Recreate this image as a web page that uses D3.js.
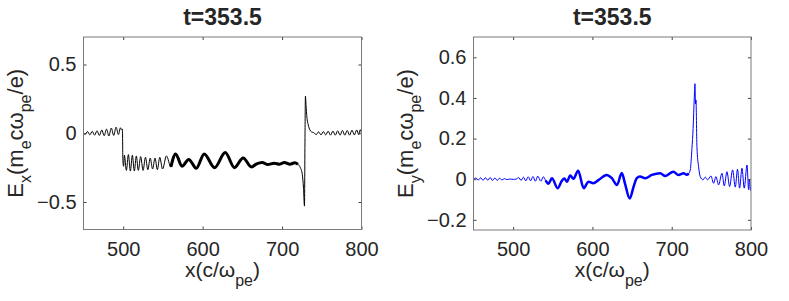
<!DOCTYPE html>
<html>
<head>
<meta charset="utf-8">
<script src="https://cdn.jsdelivr.net/npm/d3@7/dist/d3.min.js"></script>
<style>
  body { margin: 0; background: #fff; }
  text { font-family: "Liberation Sans", Arial, Helvetica, sans-serif; fill: #262626; }
</style>
</head>
<body>
<script>
// ---- data ----
var titleText = "t=353.5";
var xTicks = [500, 600, 700, 800];
var exTicks = [-0.5, 0, 0.5];
var eyTicks = [-0.2, 0, 0.2, 0.4, 0.6];

// E_x (black)
var exX = [450,452,455,458,461,464,467,470,473,476,479,482,485,488,491,494,496.5,498,499,
  499.6,500.5,501.5,504,506.5,509,511.5,514,516.5,519,522,525,528,531,534,537,540,543,546,549.5,
  554.5,560,566,574,582.5,592,602,615,628.5,640,651,661.5,
  668,675,682,690,697,703,710,716,720,723,725.5,727,728.2,728.9,729.4,730.2,731.2,733,735,737,740,
  743,746,749,752,755,758,761,764,767,770,773,776,779,782,785,788,791,794,796.5,798.5,800];
var exY = [0,-0.008,0.012,-0.012,0.014,-0.014,0.018,-0.016,0.024,-0.018,0.03,-0.02,0.038,-0.016,0.044,-0.01,0.04,0.025,0.03,
  -0.2,-0.24,-0.16,-0.27,-0.155,-0.275,-0.16,-0.275,-0.165,-0.27,-0.17,-0.27,-0.175,-0.265,-0.18,-0.26,-0.18,-0.265,-0.175,-0.26,
  -0.165,-0.245,-0.15,-0.24,-0.19,-0.255,-0.15,-0.25,-0.14,-0.25,-0.18,-0.245,
  -0.222,-0.212,-0.228,-0.218,-0.225,-0.212,-0.225,-0.215,-0.225,-0.25,-0.3,-0.4,-0.53,0,0.27,0.2,0.12,0.06,0.025,0.01,0.004,
  -0.01,0.01,-0.012,0.012,-0.012,0.015,-0.014,0.016,-0.014,0.018,-0.014,0.02,-0.014,0.02,-0.014,0.022,-0.012,0.024,-0.01,0.026,0];

// E_y (blue)
var eyX = [450,453,456,459,462,465,468,471,474,477,480,483,486,489,492,496,500,504,507,510,513,516,519,522,525,528,531,535,538,541,
  544.5,549,556,561.5,564.5,567.8,572,576,582,589,595,601,608,618,624.5,631,637,641,647,652,656,660,666.5,675,685.5,692,702,708.5,715,719,721.5,
  723.4,725.5,727,728.5,729.3,730,730.6,731.8,733.9,736,739.4,742.3,745.2,749.5,752.8,755.8,759.1,763.4,766.3,769.7,773,776.8,780.2,783,785.6,788.6,791.5,795,797,798,799.5,800];
var eyY = [0,0.006,-0.004,0.007,-0.005,0.007,-0.005,0.008,-0.006,0.006,-0.006,0.005,-0.004,0.003,-0.002,0.001,-0.001,0.001,0.008,-0.006,0.01,-0.008,0.012,-0.008,0.013,-0.01,0.015,-0.01,0.012,-0.006,
  -0.022,0.005,-0.044,-0.008,0.004,-0.012,0.018,0.002,0.042,-0.044,-0.012,-0.02,-0.003,0.021,0.005,-0.028,0.03,-0.02,-0.095,-0.036,0.005,0.013,0.005,0.021,0.029,0.016,0.037,0.021,0.029,0.022,0.028,
  0.046,0.15,0.25,0.405,0.47,0.37,0.39,0.16,0.062,0.013,-0.003,0.01,-0.003,0.016,-0.02,0.013,-0.028,0.029,-0.033,0.037,-0.036,0.046,-0.039,0.049,-0.044,0.054,-0.044,0.07,-0.052,0,-0.055,-0.04];

// ---- drawing ----
var W = 789, H = 301;
var svg = d3.select("body").append("svg").attr("width", W).attr("height", H);

function drawPanel(o) {
  var x = d3.scaleLinear().domain([450, 800]).range([o.left, o.right]);
  var y = d3.scaleLinear().domain(o.yDomain).range([o.bottom, o.top]);
  var g = svg.append("g");

  var clipId = "clip" + o.id;
  svg.append("clipPath").attr("id", clipId).append("rect")
    .attr("x", o.left).attr("y", o.top)
    .attr("width", o.right - o.left).attr("height", o.bottom - o.top);

  var pts = o.xs.map(function (d, i) { return [d, o.ys[i]]; });
  var line = d3.line().x(function (d) { return x(d[0]); }).y(function (d) { return y(d[1]); })
    .curve(d3.curveMonotoneX);

  var lg = g.append("g").attr("clip-path", "url(#" + clipId + ")");
  lg.append("path").datum(pts).attr("d", line)
    .attr("fill", "none").attr("stroke", o.color).attr("stroke-width", 1);
  // noisy stretch drawn as a thicker band
  lg.append("path")
    .datum(pts.filter(function (d) { return d[0] >= o.noisy[0] && d[0] <= o.noisy[1]; }))
    .attr("d", line)
    .attr("fill", "none").attr("stroke", o.color).attr("stroke-width", o.noisyWidth)
    .attr("stroke-linejoin", "round");

  // axes (ticks inward, box on)
  var ax = g.append("g").attr("transform", "translate(0," + o.bottom + ")")
    .call(d3.axisBottom(x).tickValues(xTicks).tickSizeInner(-3).tickSizeOuter(0).tickPadding(12));
  var axT = g.append("g").attr("transform", "translate(0," + o.top + ")")
    .call(d3.axisTop(x).tickValues(xTicks).tickSizeInner(-3).tickSizeOuter(0).tickFormat(""));
  var ay = g.append("g").attr("transform", "translate(" + o.left + ",0)")
    .call(d3.axisLeft(y).tickValues(o.yTicks).tickSizeInner(-3).tickSizeOuter(0).tickPadding(7)
      .tickFormat(function (d) { return d === 0 ? "0" : d3.format("")(d); }));
  var ayR = g.append("g").attr("transform", "translate(" + o.right + ",0)")
    .call(d3.axisRight(y).tickValues(o.yTicks).tickSizeInner(-3).tickSizeOuter(0).tickFormat(""));

  [ax, axT, ay, ayR].forEach(function (a) {
    a.select(".domain").remove();
    a.selectAll(".tick line").attr("stroke", "#404040");
    a.selectAll("text").style("font-size", "20px").attr("fill", "#262626");
  });

  g.append("rect").attr("x", o.left).attr("y", o.top)
    .attr("width", o.right - o.left).attr("height", o.bottom - o.top)
    .attr("fill", "none").attr("stroke", "#7a7a7a").attr("stroke-width", 1);

  // title
  g.append("text").attr("x", (o.left + o.right) / 2).attr("y", 25)
    .attr("text-anchor", "middle").style("font-size", "23px").style("font-weight", "bold")
    .attr("fill", "#000").text(titleText);

  // x label: x(c/ω_pe)
  var xl = g.append("text").attr("x", (o.left + o.right) / 2).attr("y", 277)
    .attr("text-anchor", "middle").style("font-size", "21px");
  richText(xl, [["x(c/ω"], ["pe", 1], [")"]], 9);

  // y label
  var yl = g.append("text")
    .attr("transform", "translate(" + o.ylabelX + "," + ((o.top + o.bottom) / 2) + ") rotate(-90)")
    .attr("text-anchor", "middle").style("font-size", "22px");
  richText(yl, o.ylabel, 8);
}

function richText(sel, parts, shift) {
  var down = false;
  parts.forEach(function (p) {
    var t = sel.append("tspan").text(p[0]);
    if (p[1] && !down) { t.attr("dy", shift).style("font-size", "16px"); down = true; }
    else if (!p[1] && down) { t.attr("dy", -shift); down = false; }
    else if (p[1]) { t.style("font-size", "16px"); }
  });
}

drawPanel({
  id: "a", left: 83.5, right: 361.5, top: 37, bottom: 229.5,
  yDomain: [-0.7, 0.7], yTicks: exTicks, xs: exX, ys: exY, color: "#000",
  noisy: [560, 722], noisyWidth: 3, ylabelX: 23,
  ylabel: [["E"], ["x", 1], ["(m"], ["e", 1], ["cω"], ["pe", 1], ["/e)"]]
});
drawPanel({
  id: "b", left: 473.5, right: 751, top: 37, bottom: 230,
  yDomain: [-0.25, 0.7], yTicks: eyTicks, xs: eyX, ys: eyY, color: "#0000ff",
  noisy: [540, 723], noisyWidth: 2.5, ylabelX: 413,
  ylabel: [["E"], ["y", 1], ["(m"], ["e", 1], ["cω"], ["pe", 1], ["/e)"]]
});
</script>
</body>
</html>
